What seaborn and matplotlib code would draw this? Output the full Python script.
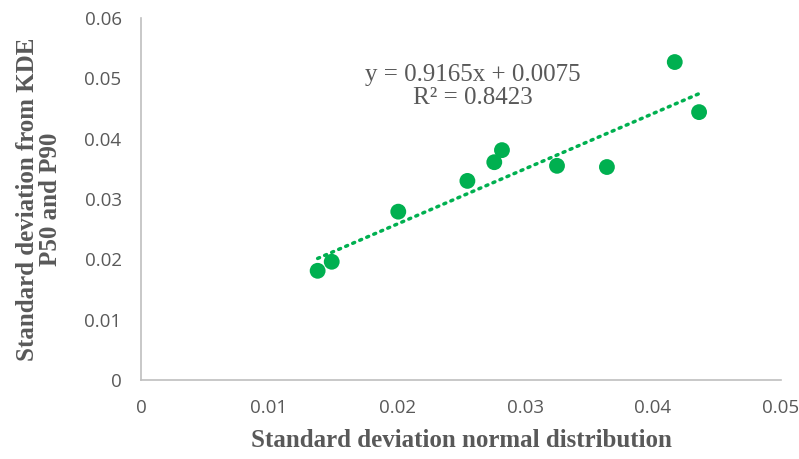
import numpy as np
import pandas as pd
import seaborn as sns
import matplotlib
matplotlib.use("Agg")
import matplotlib.pyplot as plt

# values
sd_normal = [0.0138, 0.0149, 0.0201, 0.0255, 0.0276, 0.0282, 0.0325, 0.0364, 0.0417, 0.0436]
sd_kde = [0.0181, 0.0196, 0.0279, 0.0330, 0.0361, 0.0381, 0.0355, 0.0353, 0.0527, 0.0444]
slope = 0.9165
intercept = 0.0075
r2 = 0.8423

x_ticks = [0, 0.01, 0.02, 0.03, 0.04, 0.05]
x_labels = ["0", "0.01", "0.02", "0.03", "0.04", "0.05"]
y_ticks = [0, 0.01, 0.02, 0.03, 0.04, 0.05, 0.06]
y_labels = ["0", "0.01", "0.02", "0.03", "0.04", "0.05", "0.06"]

df = pd.DataFrame({"x": sd_normal, "y": sd_kde})
trend_x = [min(sd_normal), max(sd_normal)]
trend = pd.DataFrame({"x": trend_x, "y": [slope * v + intercept for v in trend_x]})

sns.set_style("white")
green = "#00B050"
grey_txt = "#595959"
spine_c = "#BFBFBF"

fig = plt.figure(figsize=(7.99, 4.59), dpi=100)
ax = fig.add_axes([141 / 799, 1 - 380 / 459, 640 / 799, 362 / 459])

sns.lineplot(data=trend, x="x", y="y", ax=ax, color=green, linewidth=2.5,
             linestyle=(0, (0.6, 1.6)), dash_capstyle="round")
sns.scatterplot(data=df, x="x", y="y", ax=ax, color=green, s=130,
                edgecolor="none", zorder=3)

ax.set_xlim(0, 0.05)
ax.set_ylim(0, 0.06)
ax.set_xticks(x_ticks)
ax.set_xticklabels(x_labels)
ax.set_yticks(y_ticks)
ax.set_yticklabels(y_labels)
ax.tick_params(axis="both", length=0, labelsize=13.5, colors=grey_txt, labelfontfamily="Open Sans")
ax.tick_params(axis="x", pad=14)
ax.tick_params(axis="y", pad=14)

for side in ["top", "right"]:
    ax.spines[side].set_visible(False)
for side in ["left", "bottom"]:
    ax.spines[side].set_color(spine_c)
    ax.spines[side].set_linewidth(1.2)

ax.set_xlabel("Standard deviation normal distribution", fontsize=18, fontweight="bold",
              family="Liberation Serif", color=grey_txt, labelpad=8)
ax.set_ylabel("Standard deviation from KDE\nP50 and P90", fontsize=18, fontweight="bold",
              family="Liberation Serif", color=grey_txt, labelpad=16, linespacing=1.0)

ax.text(0.0259, 0.0487, f"y = {slope}x + {intercept}\nR² = {r2}", ha="center", va="center",
        fontsize=18, family="Liberation Serif", color=grey_txt, linespacing=1.05)

fig.savefig("out.png", dpi=100)
